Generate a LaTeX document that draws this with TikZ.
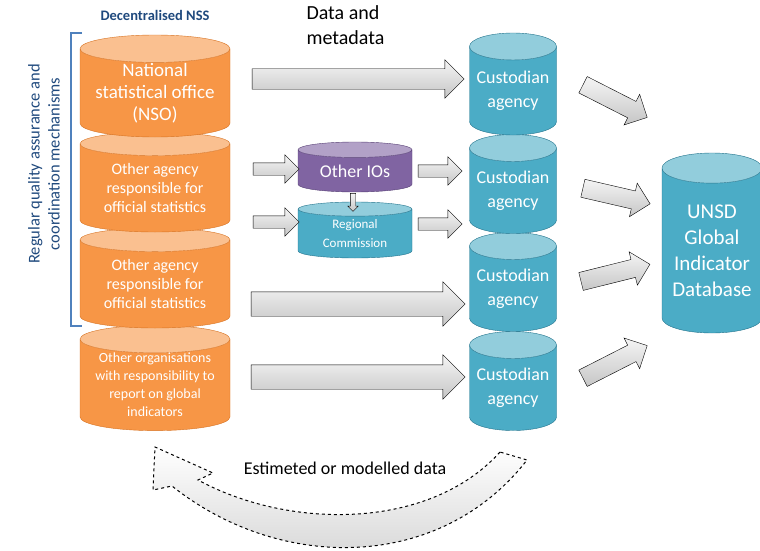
\documentclass[tikz,border=0pt]{standalone}
\usepackage{fontspec}
\setmainfont{Carlito}
\usetikzlibrary{shapes.geometric, shapes.arrows, positioning, calc}
\definecolor{nssbody}{RGB}{247, 150, 70}
\definecolor{nsstop}{RGB}{250, 192, 144}
\definecolor{nssline}{RGB}{215, 115, 35}
\definecolor{custbody}{RGB}{75, 172, 198}
\definecolor{custtop}{RGB}{146, 205, 220}
\definecolor{custline}{RGB}{35, 115, 140}
\definecolor{iobody}{RGB}{128, 100, 162}
\definecolor{iotop}{RGB}{178, 161, 199}
\definecolor{ioline}{RGB}{85, 62, 115}
\definecolor{bracketcolor}{RGB}{79, 129, 189}
\definecolor{titlecolor}{RGB}{31, 73, 125}

\begin{document}
\begin{tikzpicture}[
    x=1pt, y=-1pt,
    drum/.style={
        cylinder,
        shape border rotate=90,
        cylinder uses custom fill,
        anchor=shape center,
        inner sep=0pt,
        align=center,
        text=white
    },
    nss/.style={
        drum,
        cylinder body fill=nssbody,
        cylinder end fill=nsstop,
        draw=nssline,
        minimum width=150pt,
        minimum height=100pt,
        aspect=0.23
    },
    custodian/.style={
        drum,
        cylinder body fill=custbody,
        cylinder end fill=custtop,
        draw=custline,
        minimum width=87pt,
        minimum height=99pt,
        aspect=0.37,
        font=\fontsize{18}{24}\selectfont
    },
    fatarrow/.style={
        single arrow,
        draw=black,
        top color=gray!8,
        bottom color=gray!45,
        inner xsep=0pt,
        inner ysep=10pt,
        single arrow head extend=9pt,
        minimum width=0pt
    },
    smallarrow/.style={
        fatarrow,
        inner ysep=6pt,
        single arrow head extend=8pt,
        minimum height=46pt
    },
    diagarrow/.style={
        fatarrow,
        inner ysep=9pt,
        single arrow head extend=8pt
    }
]

\useasboundingbox (0,0) rectangle (760,551);

% Decentralised NSS (drawn bottom-up so upper drums overlap)
\node[nss, font=\fontsize{14}{18}\selectfont] (otherorg) at (155,378) {Other organisations\\with responsibility to\\report on global\\indicators};
\node[nss, font=\fontsize{16}{19}\selectfont] (agency2) at (155,278) {Other agency\\responsible for\\official statistics};
\node[nss, font=\fontsize{16}{19}\selectfont] (agency1) at (155,182) {Other agency\\responsible for\\official statistics};
\node[nss, minimum height=102pt, font=\fontsize{19}{22}\selectfont] (nso) at (155,86) {National\\statistical office\\(NSO)};

\node[font=\bfseries\fontsize{14.5}{16}\selectfont, text=titlecolor] (nsstitle) at (155,15) {Decentralised NSS};

% Quality assurance bracket
\draw[bracketcolor, line width=1.8pt] (82,33) -- (71,33) -- (71,326) -- (82,326);
\node[rotate=90, align=center, text=titlecolor, font=\fontsize{16.5}{20}\selectfont] (qualitylabel) at (44,164) {Regular quality assurance and\\coordination mechanisms};

% Custodian agencies
\node[custodian] (cust4) at (513,381) {Custodian\\agency};
\node[custodian] (cust3) at (513,282) {Custodian\\agency};
\node[custodian] (cust2) at (513,184) {Custodian\\agency};
\node[custodian, minimum height=102pt] (cust1) at (513,84) {Custodian\\agency};

% International organisations
\node[drum, cylinder body fill=custbody, cylinder end fill=custtop, draw=custline,
      minimum width=114pt, minimum height=56pt, aspect=0.22,
      font=\fontsize{13}{19}\selectfont] (regional) at (355,230) {Regional\\Commission};
\node[drum, cylinder body fill=iobody, cylinder end fill=iotop, draw=ioline,
      minimum width=114pt, minimum height=50pt, aspect=0.22,
      font=\fontsize{18}{20}\selectfont] (otherios) at (355,167) {Other IOs};

% Global database
\node[drum, cylinder body fill=custbody, cylinder end fill=custtop, draw=custline,
      minimum width=100pt, minimum height=180pt, aspect=0.38,
      font=\fontsize{21}{26}\selectfont] (unsd) at (712,243) {UNSD\\Global\\Indicator\\Database};

% Data flows
\node[fatarrow, minimum height=212pt] (flow1) at (353,79) {};
\node[align=left, anchor=north west, font=\fontsize{20}{25}\selectfont] (datalabel) at (303,2) {Data and\\metadata};

\node[smallarrow] (flow2a) at (273,169) {};
\node[smallarrow] (flow2b) at (273,222) {};
\node[smallarrow, minimum height=44pt] (flow2c) at (437,171) {};
\node[smallarrow, minimum height=44pt] (flow2d) at (437,224) {};
\node[fatarrow, rotate=-90, inner ysep=2.5pt, single arrow head extend=2.5pt, minimum height=18pt] (ioflow) at (353,201) {};

\node[fatarrow, inner ysep=12pt, single arrow head extend=10pt, minimum height=214pt] (flow3) at (352,304) {};
\node[fatarrow, inner ysep=12pt, single arrow head extend=10pt, minimum height=214pt] (flow4) at (352,377) {};

% Towards the database
\node[diagarrow, minimum height=72pt, rotate=-27] (up1) at (611,99) {};
\node[diagarrow, minimum height=69pt, rotate=-13] (up2) at (612,195) {};
\node[diagarrow, minimum height=71pt, rotate=14] (up3) at (611,274) {};
\node[diagarrow, minimum height=72pt, rotate=27] (up4) at (611,364) {};

% Estimated data back to countries
\coordinate (backstart) at (527,460);
\draw[dashed, line width=1pt, top color=white, bottom color=gray!35]
    (500,452) .. controls (430,530) and (290,530) .. (198,480) -- (213,473) -- (155,447)
    -- (153,490) -- (172,486) .. controls (280,572) and (440,572) .. (backstart) -- cycle;
\node[font=\fontsize{18}{20}\selectfont] (backlabel) at (345,468) {Estimeted or modelled data};

\end{tikzpicture}
\end{document}
